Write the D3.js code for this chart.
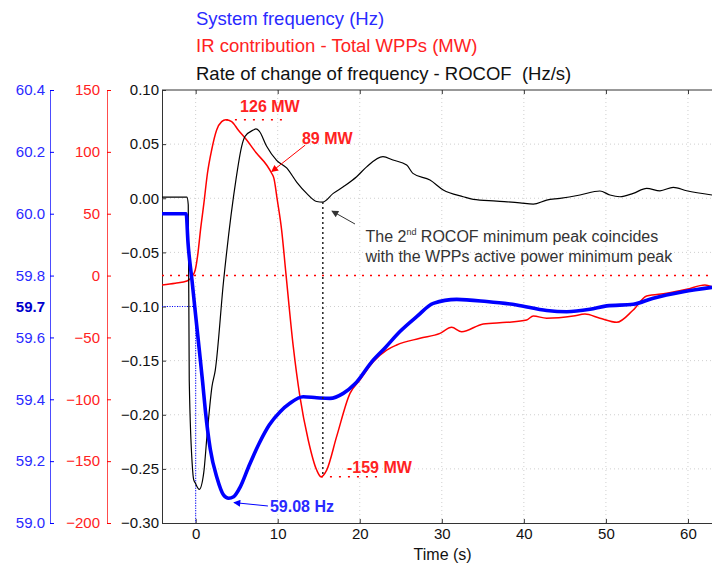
<!DOCTYPE html>
<html><head><meta charset="utf-8">
<script src="https://cdn.jsdelivr.net/npm/d3@7"></script>
<style>
html,body{margin:0;padding:0;background:#fff;}
svg{display:block;font-family:"Liberation Sans",Arial,sans-serif;}
</style></head>
<body><svg id="c" width="712" height="563"></svg>
<script>
// ---- data ----
const rocofT = [-4.1,-1.06,-0.9,-0.78,-0.37,-0.24,-0.05,0.44,0.98,1.38,1.99,2.39,3.41,4.91,5.61,6.01,7.02,7.35,7.75,8.65,9.87,11.09,12.31,13.53,14.75,15.5,16.77,17.99,19.62,20.84,22.83,24.05,25.72,26.48,28.56,30.18,32.61,33.83,36.68,39.52,41.15,42.78,44.40,46.84,49.27,50.49,51.71,53.33,54.97,56.59,58.21,59.84,62.93];
const rocofV = [0.001,0.001,-0.006,-0.168,-0.251,-0.260,-0.263,-0.269,-0.254,-0.220,-0.174,-0.159,-0.076,0.017,0.048,0.057,0.063,0.064,0.062,0.048,0.035,0.028,0.015,0.0045,-0.003,-0.0035,0.0045,0.0106,0.0199,0.029,0.0384,0.0353,0.0307,0.023,0.0168,0.0076,0.0014,-0.001,-0.0026,-0.0042,-0.0054,-0.0017,-0.0001,0.003,0.0067,0.003,0.0014,0.0045,0.0091,0.0069,0.0101,0.0069,0.003];

const irT = [-4.1,-2.49,-1.06,-0.45,-0.05,0.28,0.59,1.01,1.44,1.95,2.56,3.17,3.69,4.39,5.19,6.22,7.43,8.65,9.26,9.54,9.95,10.48,11.0,11.9,12.71,13.72,14.75,15.27,15.97,17.18,18.81,20.02,21.65,23.28,24.5,27.34,29.78,31.2,32.42,35.05,37.91,40.34,41.15,42.78,46.02,47.45,49.27,51.31,53.33,54.97,57.4,59.84,62.07,62.93];
const irV = [-7.6,-6.2,-4.4,-0.9,4.5,18.0,36.8,58.7,82.7,101.5,117.7,124.4,126.0,124.4,117.7,109.6,98.8,89.4,82.7,78.6,61.1,36.8,1.8,-57.5,-97.9,-132.9,-157.2,-162.6,-157.2,-130.2,-95.2,-84.4,-69.6,-60.2,-56.1,-50.7,-46.7,-41.8,-45.4,-39.1,-37.8,-35.9,-32.7,-34.5,-32.7,-31.1,-34.5,-37.8,-27.8,-16.5,-14.3,-11.1,-7.6,-9.0];

const freqT = [-4.1,-1.15,-0.94,-0.45,-0.05,0.44,0.85,1.19,1.78,2.6,3.41,4.02,4.63,5.44,6.46,7.75,8.97,10.3,11.49,13.11,14.75,16.37,17.99,19.42,21.49,23.07,24.9,26.94,28.96,31.81,35.47,39.12,42.78,45.22,48.06,50.09,53.33,55.77,59.43,62.93];
const freqV = [60.0,60.0,59.91,59.786,59.684,59.561,59.456,59.362,59.239,59.146,59.09,59.08,59.085,59.117,59.182,59.258,59.317,59.36,59.387,59.408,59.405,59.403,59.419,59.45,59.522,59.566,59.619,59.667,59.710,59.723,59.716,59.705,59.687,59.683,59.691,59.702,59.707,59.727,59.748,59.762];

const timeTicks = [0,10,20,30,40,50,60];
const rocofTicks = [-0.30,-0.25,-0.20,-0.15,-0.10,-0.05,0.00,0.05,0.10];
const irTicks = [-200,-150,-100,-50,0,50,100,150];
const freqTicks = [59.0,59.2,59.4,59.6,59.7,59.8,60.0,60.2,60.4];
const legendLabels = ["System frequency (Hz)","IR contribution - Total WPPs (MW)","Rate of change of frequency - ROCOF  (Hz/s)"];

// ---- layout ----
const L = 162, R = 712, T = 90, B = 523;
const BLUE = "#0000ff", RED = "#ff0000";
const BLUE_T = "#2a2aff", RED_T = "#ff2222";

const svg = d3.select("#c");
const x = d3.scaleLinear().domain([-4.1, 62.93]).range([L, R]);
const yB = d3.scaleLinear().domain([-0.30, 0.10]).range([B, T]);
const yR = d3.scaleLinear().domain([-200, 150]).range([B, T]);
const yF = d3.scaleLinear().domain([59.0, 60.4]).range([B, T]);

svg.append("defs").append("clipPath").attr("id","clip")
  .append("rect").attr("x",L).attr("y",T).attr("width",R-L).attr("height",B-T);

// grid
const grid = svg.append("g").attr("stroke","#cfcfcf").attr("stroke-width",1).attr("stroke-dasharray","1,3");
rocofTicks.slice(1,-1).forEach(v=>grid.append("line").attr("x1",L).attr("x2",R).attr("y1",yB(v)).attr("y2",yB(v)));
timeTicks.forEach(v=>grid.append("line").attr("x1",x(v)).attr("x2",x(v)).attr("y1",T).attr("y2",B));

// frame
svg.append("line").attr("x1",L).attr("x2",R).attr("y1",T).attr("y2",T).attr("stroke","#333");

// axes
const ax = svg.append("g").attr("transform",`translate(0,${B})`)
  .call(d3.axisBottom(x).tickValues(timeTicks).tickFormat(d3.format("d")).tickSizeInner(-4).tickSizeOuter(0).tickPadding(5));
ax.select(".domain").attr("stroke","#333");
ax.selectAll(".tick line").attr("stroke","#333");
ax.selectAll("text").attr("font-size",15).attr("fill","#111").attr("font-family","Liberation Sans, Arial");

const axT = svg.append("g").attr("transform",`translate(0,${T})`)
  .call(d3.axisTop(x).tickValues(timeTicks).tickFormat("").tickSizeInner(-4).tickSizeOuter(0));
axT.select(".domain").remove();
axT.selectAll(".tick line").attr("stroke","#333");

const ayB = svg.append("g").attr("transform",`translate(${L},0)`)
  .call(d3.axisLeft(yB).tickValues(rocofTicks).tickFormat(d3.format(".2f")).tickSizeInner(-4).tickSizeOuter(0).tickPadding(3));
ayB.select(".domain").attr("stroke","#333");
ayB.selectAll(".tick line").attr("stroke","#333");
ayB.selectAll("text").attr("font-size",15).attr("fill","#111").attr("font-family","Liberation Sans, Arial");

const ayR = svg.append("g").attr("transform",`translate(107,0)`)
  .call(d3.axisLeft(yR).tickValues(irTicks).tickFormat(d3.format("d")).tickSizeInner(-4).tickSizeOuter(0).tickPadding(7));
ayR.select(".domain").attr("stroke",RED).attr("stroke-opacity",0.7);
ayR.selectAll(".tick line").attr("stroke",RED);
ayR.selectAll("text").attr("font-size",15).attr("fill",RED_T).attr("font-family","Liberation Sans, Arial");

const ayF = svg.append("g").attr("transform",`translate(50,0)`)
  .call(d3.axisLeft(yF).tickValues(freqTicks).tickFormat(d3.format(".1f")).tickSizeInner(-4).tickSizeOuter(0).tickPadding(5));
ayF.select(".domain").attr("stroke",BLUE).attr("stroke-opacity",0.7);
ayF.selectAll(".tick line").attr("stroke",BLUE);
ayF.selectAll("text").attr("font-size",15).attr("fill",BLUE_T).attr("font-family","Liberation Sans, Arial");
ayF.selectAll(".tick").filter(d=>Math.abs(d-59.7)<1e-9).each(function(){
  d3.select(this).select("line").remove();
  d3.select(this).select("text").attr("font-weight","bold").attr("fill","#0000cc");
});

// reference lines
const plot = svg.append("g").attr("clip-path","url(#clip)");
plot.append("line").attr("x1",L).attr("x2",R).attr("y1",yR(0)).attr("y2",yR(0))
  .attr("stroke",RED).attr("stroke-width",1.5).attr("stroke-dasharray","2,6");
plot.append("path").attr("d",`M${L},${yF(59.7)}H${x(0)}V${B}`)
  .attr("fill","none").attr("stroke",BLUE).attr("stroke-width",1.2).attr("stroke-dasharray","1,1.5");

// curves
const mk = (ts, vs, ys) => d3.line().curve(d3.curveMonotoneX).x((d,i)=>x(ts[i])).y((d,i)=>ys(vs[i]))(vs);
plot.append("path").attr("d",mk(irT,irV,yR)).attr("fill","none").attr("stroke",RED).attr("stroke-width",1.5);
plot.append("path").attr("d",mk(rocofT,rocofV,yB)).attr("fill","none").attr("stroke","#000").attr("stroke-width",1.2);
plot.append("path").attr("d",mk(freqT,freqV,yF)).attr("fill","none").attr("stroke",BLUE).attr("stroke-width",3.6);

// annotation: vertical dashed at ROCOF 2nd min / IR min
const tMin = 15.5;
plot.append("line").attr("x1",x(tMin)).attr("x2",x(tMin)).attr("y1",yB(-0.0035)).attr("y2",yR(-162.6))
  .attr("stroke","#222").attr("stroke-width",1.5).attr("stroke-dasharray","2,3");

// dotted peak markers
plot.append("line").attr("x1",x(3.69)).attr("x2",x(10.9)).attr("y1",yR(126)).attr("y2",yR(126))
  .attr("stroke",RED).attr("stroke-width",1.5).attr("stroke-dasharray","2,7");
plot.append("line").attr("x1",x(15.27)).attr("x2",x(22.7)).attr("y1",yR(-162.6)).attr("y2",yR(-162.6))
  .attr("stroke",RED).attr("stroke-width",1.5).attr("stroke-dasharray","2,7");

// arrow markers
const defs = svg.select("defs");
function marker(id, color){
  defs.append("marker").attr("id",id).attr("viewBox","0 0 10 10").attr("refX",9).attr("refY",5)
    .attr("markerWidth",9).attr("markerHeight",7).attr("orient","auto").attr("markerUnits","userSpaceOnUse")
    .append("path").attr("d","M0,0L10,5L0,10z").attr("fill",color);
}
marker("ar",RED); marker("ab",BLUE); marker("ak","#333");

svg.append("line").attr("x1",x(13.36)).attr("y1",yR(105.5)).attr("x2",x(9.26)).attr("y2",yR(84))
  .attr("stroke",RED).attr("stroke-width",1).attr("marker-end","url(#ar)");
svg.append("line").attr("x1",x(19.42)).attr("y1",yB(-0.0238)).attr("x2",x(16.61)).attr("y2",yB(-0.0118))
  .attr("stroke","#333").attr("stroke-width",1).attr("marker-end","url(#ak)");
svg.append("line").attr("x1",x(8.81)).attr("y1",yF(59.055)).attr("x2",x(4.67)).attr("y2",yF(59.066))
  .attr("stroke",BLUE).attr("stroke-width",1).attr("marker-end","url(#ab)");

// annotation labels
const lab = (t, yv, txt, color) => svg.append("text").attr("x",x(t)).attr("y",yv).text(txt)
  .attr("font-size",16).attr("font-weight","bold").attr("fill",color);
lab(5.42, yR(132.2), "126 MW", RED_T);
lab(12.96, yR(106.4), "89 MW", RED_T);
lab(18.44, yR(-159.2), "-159 MW", RED_T);
lab(9.06, yF(59.034), "59.08 Hz", BLUE_T);

const note = svg.append("text").attr("x",x(20.7)).attr("y",yB(-0.0408)).attr("font-size",16).attr("fill","#333");
note.append("tspan").text("The 2");
note.append("tspan").text("nd").attr("font-size",9).attr("dy",-7);
note.append("tspan").text(" ROCOF minimum peak coincides").attr("dy",7);
svg.append("text").attr("x",x(20.7)).attr("y",yB(-0.0593)).attr("font-size",16).attr("fill","#333")
  .text("with the WPPs active power minimum peak");

// legend
const legColors = [BLUE_T, RED_T, "#111"];
legendLabels.forEach((s,i)=>svg.append("text").attr("x",196).attr("y",25+27.3*i).attr("font-size",18.5)
  .attr("fill",legColors[i]).style("white-space","pre").text(s));

// x label
svg.append("text").attr("x",x(30.1)).attr("y",560).attr("text-anchor","middle").attr("font-size",16).attr("fill","#111").text("Time (s)");
</script></body></html>
